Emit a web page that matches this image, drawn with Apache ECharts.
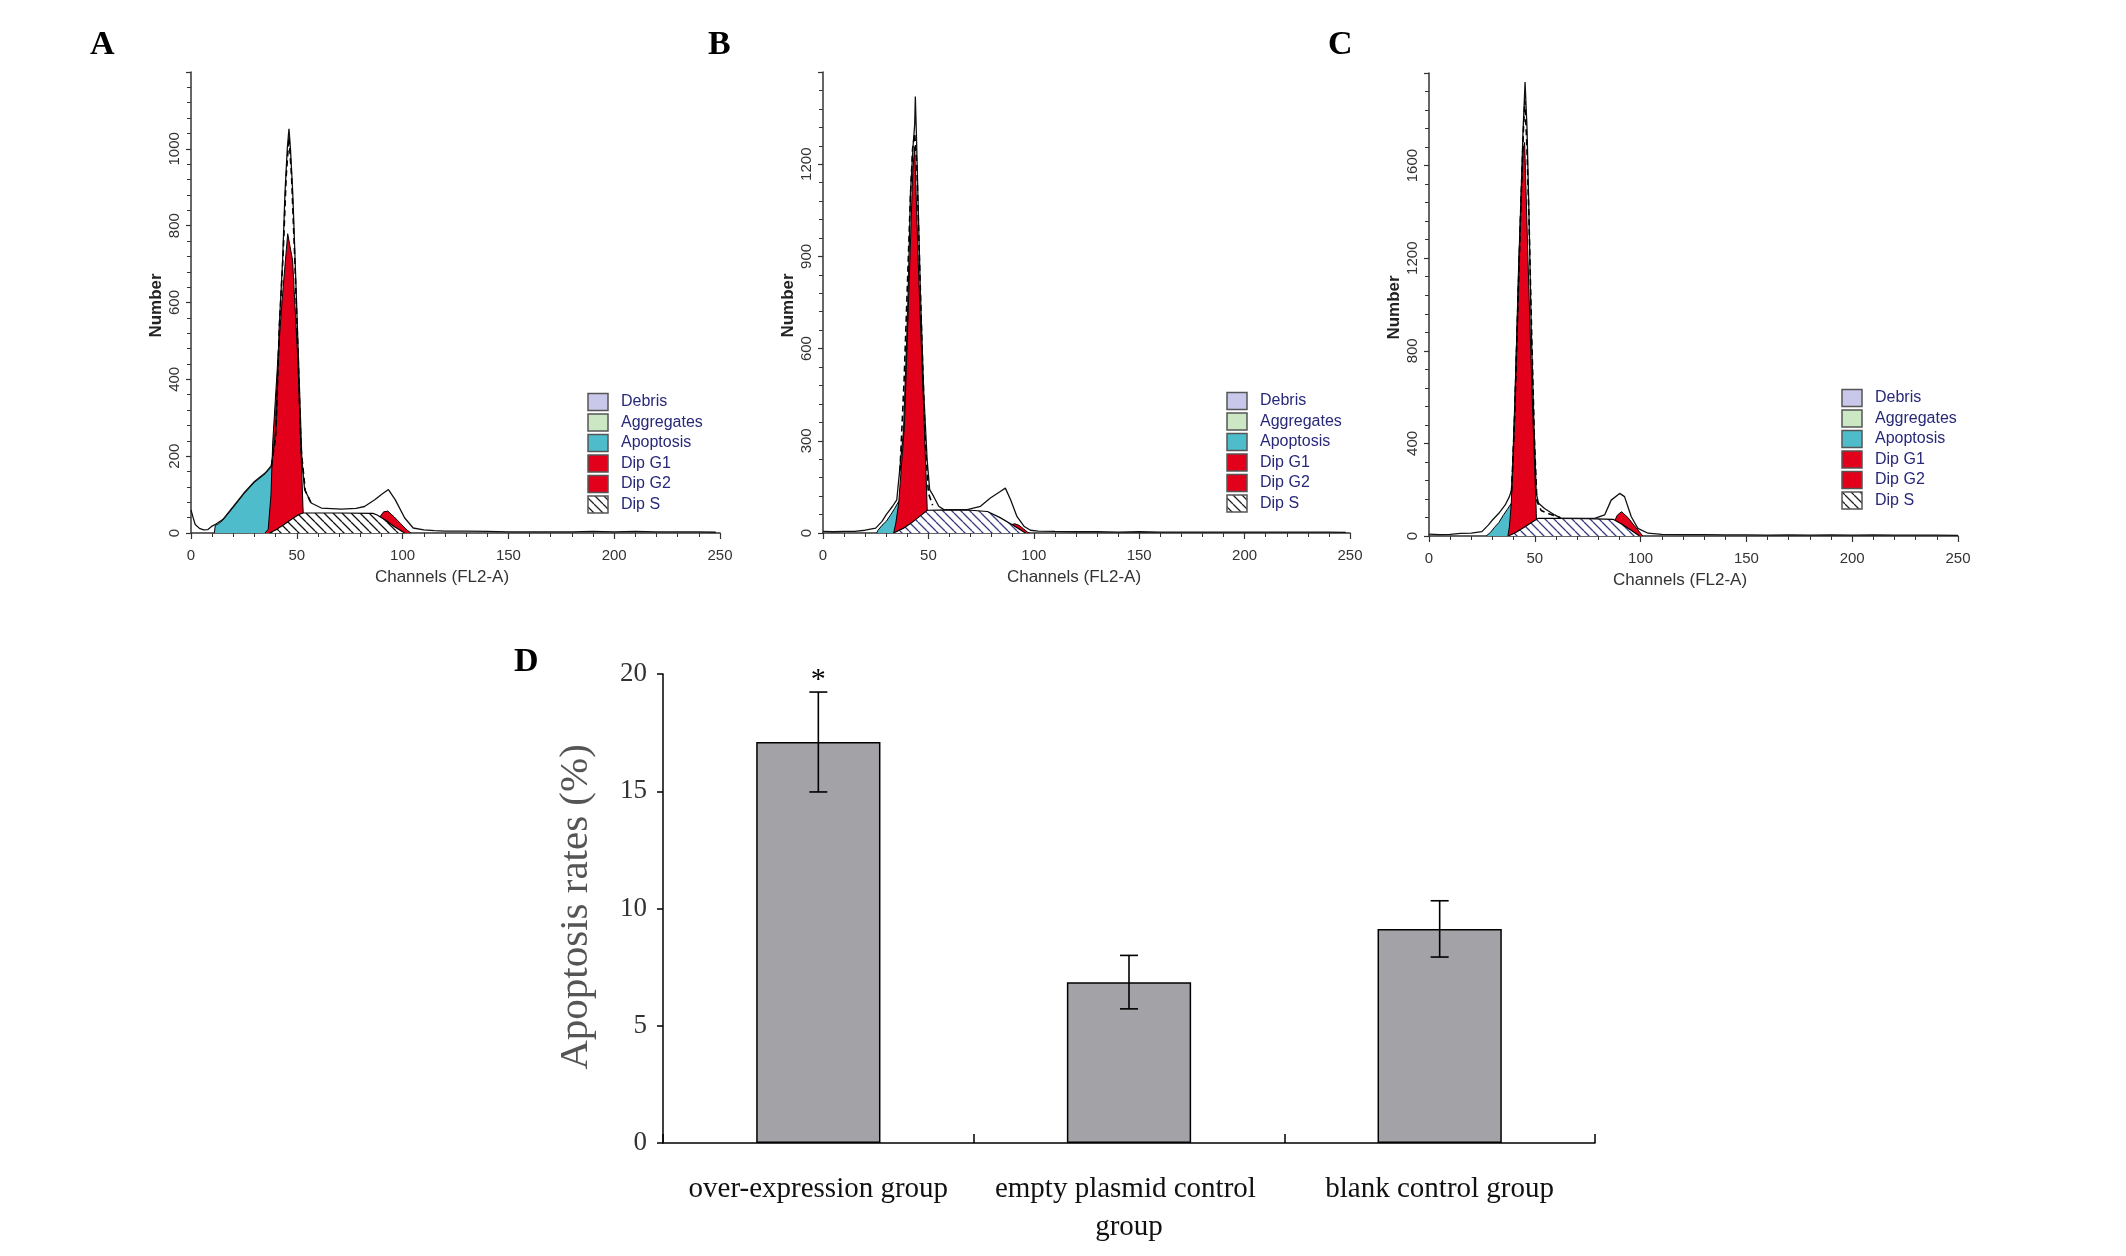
<!DOCTYPE html>
<html><head><meta charset="utf-8">
<script src="https://cdn.jsdelivr.net/npm/echarts/dist/echarts.min.js"></script>
<style>html,body{margin:0;padding:0;background:#fff}#c{width:2126px;height:1256px}</style>
</head><body><div id="c"></div>
<script>
// ---------- Panel A (channel, count) ----------
const A_total = [[0,60],[1,40],[2,22],[4,12],[6,8],[8,9],[10,18],[12,24],[15,35],[20,69],[25,104],[30,134],[35,156],[38,175],[39.4,234],[40.2,277],[41.7,537],[43.3,710],[44.4,883],[45.5,1000],[46.3,1052],[47,1000],[48.1,883],[49.2,710],[50.8,450],[52.4,190],[53.7,113],[56.8,78],[61.6,65],[71,62],[78,64],[82,69],[87,87],[90,100],[93.3,113],[96.5,87],[101,39],[105,13],[110,8],[115,6],[120,5],[130,5],[140,4],[150,3],[160,3],[170,3],[180,3],[190,4],[200,3],[210,4],[220,3],[230,3],[240,3],[248,2]];
const A_fit = [[38,175],[40,250],[41.8,540],[43.5,720],[45,930],[46.3,1030],[47.5,930],[49,720],[50.5,480],[52,220],[54,110],[57,75]];
const A_apoptosis = [[11,0],[11.5,20],[13,24],[15,33],[20,67],[25,102],[30,132],[35,154],[38.5,176],[39.5,0]];
const A_G1 = [[35,0],[36.5,10],[37.8,100],[38.6,234],[41,450],[43.3,623],[45.7,779],[48,710],[50.5,450],[52.9,69],[53.5,0]];
const A_S = [[37,0],[40,8],[44,22],[48,38],[51,48],[53,52],[70,52],[86,51],[88,47],[92,33],[96,17],[100,3],[101,0]];
const A_G2 = [[88,0],[89,40],[91,55],[93,57],[96,42],[99,25],[102,8],[104,0]];

// ---------- Panel B ----------
const B_total = [[0,5],[5,4],[10,5],[15,5],[20,9],[25,16],[28,38],[30,60],[33,87],[35,108],[36.7,227],[38.2,330],[39.6,600],[40.4,780],[41.5,1105],[42.7,1257],[43.5,1330],[43.8,1420],[44.3,1300],[45,1105],[46.2,780],[47.8,455],[49.4,238],[50.6,141],[52.5,119],[54.9,87],[57.3,76],[62,76],[68.4,76],[74.7,87],[79.4,114],[84.1,135],[86.5,146],[89,108],[92,54],[95.3,22],[98.4,9],[102,6],[110,5],[120,4],[130,4],[140,3],[150,4],[160,3],[170,3],[180,3],[190,3],[200,3],[210,3],[220,3],[230,3],[240,3],[248,2]];
const B_fit = [[36.5,200],[38.5,500],[40,800],[41.5,1100],[42.5,1250],[43.5,1300],[44.5,1200],[45.5,950],[47,600],[48.5,300],[50,130],[52,90]];
const B_apoptosis = [[25.5,0],[26,8],[28,25],[30,38],[32,58],[34,80],[35.9,103],[36.3,0]];
const B_G1 = [[33.5,0],[34.5,30],[35.9,97],[37,200],[38.6,347],[40.7,780],[42.6,1181],[43.5,1257],[45.4,834],[47.5,455],[49.4,87],[49.8,0]];
const B_S = [[33.5,0],[38,15],[42,33],[46,55],[49.5,74],[60,75],[70,74],[78,70],[84,50],[90,26],[96,0]];
const B_G2 = [[86,0],[88,25],[91,30],[93,25],[95,14],[97,3],[98,0]];

// ---------- Panel C ----------
const C_total = [[0,8],[5,6],[10,7],[15,11],[20,12],[25,19],[28,47],[30,69],[33,98],[36,134],[38,170],[39,199],[39.6,300],[40.2,472],[41.7,904],[43.3,1407],[44.4,1738],[45.4,1961],[46.3,1767],[47.2,1407],[48.3,904],[49.6,472],[50.7,184],[51.8,141],[54.6,119],[59.4,91],[62.5,76],[70,76],[78.3,76],[83,91],[86.1,155],[90.1,184],[92.4,170],[95.6,83],[98.7,33],[103.5,12],[110,7],[120,6],[130,6],[140,5],[150,5],[160,4],[170,5],[180,4],[190,5],[200,4],[210,5],[220,4],[230,4],[240,4],[250,3]];
const C_fit = [[39,190],[40.5,520],[42,1000],[43.5,1450],[44.6,1750],[45.3,1880],[46.2,1700],[47.3,1350],[48.5,880],[49.8,420],[51,150],[53,110],[57,95],[62,80]];
const C_apoptosis = [[27,0],[27.5,8],[29,15],[31,38],[33,58],[35,88],[37,115],[38.9,141],[39.3,0]];
const C_G1 = [[37.3,0],[38,40],[38.9,141],[40.5,544],[42.4,1191],[44.4,1666],[45.2,1700],[46.8,1191],[48.7,616],[50.7,98],[51,0]];
const C_S = [[37.5,0],[41,15],[45,38],[49,62],[51.5,76],[60,76],[75,75],[87,72],[91,52],[95,28],[99.5,0]];
const C_G2 = [[86,0],[87.5,60],[89,90],[91,105],[94,80],[97,45],[100,12],[101,0]];

// ---------- Panel D ----------
const categories = ['over-expression group', 'empty plasmid control group', 'blank control group'];
const rates = [17.1, 6.86, 9.13];
const errors = [2.13, 1.14, 1.2];
const marks = ['*', '', ''];

const legendItems = ['Debris', 'Aggregates', 'Apoptosis', 'Dip G1', 'Dip G2', 'Dip S'];

// ---------- helpers ----------
function hatch(color) {
  const s = 9, c = document.createElement('canvas');
  c.width = s; c.height = s;
  const g = c.getContext('2d');
  g.fillStyle = '#fff'; g.fillRect(0, 0, s, s);
  g.strokeStyle = color; g.lineWidth = 1.3;
  g.beginPath();
  [-s, 0, s].forEach(k => { g.moveTo(k, 0); g.lineTo(k + s, s); });
  g.stroke();
  return { image: c, repeat: 'repeat' };
}
const RED = '#e2001a', CYAN = '#4fbccb';
const legendColors = ['#c9c8ea', '#cbe7c4', CYAN, RED, RED, 'hatch'];

const panels = [
  { grid: { left: 191, top: 72, width: 529, height: 461 }, ymax: 1200, yint: 200, total: A_total, fit: A_fit, apo: A_apoptosis, g1: A_G1, s: A_S, g2: A_G2, hatchColor: '#111', letter: 'A', letterX: 102, legX: 588, legY: 402 },
  { grid: { left: 823, top: 72, width: 527, height: 461 }, ymax: 1500, yint: 300, total: B_total, fit: B_fit, apo: B_apoptosis, g1: B_G1, s: B_S, g2: B_G2, hatchColor: '#3a3a80', letter: 'B', letterX: 720, legX: 1227, legY: 401 },
  { grid: { left: 1429, top: 73, width: 529, height: 463 }, ymax: 2000, yint: 400, total: C_total, fit: C_fit, apo: C_apoptosis, g1: C_G1, s: C_S, g2: C_G2, hatchColor: '#3a3a80', letter: 'C', letterX: 1340, legX: 1842, legY: 398 }
];

const grids = [], xAxes = [], yAxes = [], series = [], graphics = [];
const axisCol = '#333';
panels.forEach((p, i) => {
  grids.push(p.grid);
  xAxes.push({
    gridIndex: i, type: 'value', min: 0, max: 250, interval: 50,
    axisLine: { show: true, onZero: false, lineStyle: { color: axisCol, width: 1.5 } },
    axisTick: { show: true, length: 6, lineStyle: { color: axisCol, width: 1.2 } },
    minorTick: { show: true, splitNumber: 5, length: 4, lineStyle: { color: axisCol, width: 1 } },
    splitLine: { show: false }, minorSplitLine: { show: false },
    axisLabel: { fontSize: 15, color: '#333', margin: 15, fontFamily: 'Liberation Sans', formatter: v => String(v) }
  });
  yAxes.push({
    gridIndex: i, type: 'value', min: 0, max: p.ymax, interval: p.yint,
    axisLine: { show: true, lineStyle: { color: axisCol, width: 1.5 } },
    axisTick: { show: true, length: 5, lineStyle: { color: axisCol, width: 1.2 } },
    minorTick: { show: true, splitNumber: 5, length: 4, lineStyle: { color: axisCol, width: 1 } },
    splitLine: { show: false }, minorSplitLine: { show: false },
    axisLabel: { rotate: 90, fontSize: 15, color: '#333', margin: 9, showMaxLabel: false, fontFamily: 'Liberation Sans', formatter: v => String(v) }
  });
  const base = { xAxisIndex: i, yAxisIndex: i, symbol: 'none', showSymbol: false, silent: true, animation: false };
  series.push(Object.assign({ type: 'line', name: 'Apoptosis', data: p.apo, z: 2, lineStyle: { color: '#000', width: 1 }, areaStyle: { color: CYAN, opacity: 1 } }, base));
  series.push(Object.assign({ type: 'line', name: 'Dip G2', data: p.g2, z: 3, lineStyle: { color: '#000', width: 1 }, areaStyle: { color: RED, opacity: 1 } }, base));
  series.push(Object.assign({ type: 'line', name: 'Dip G1', data: p.g1, z: 4, lineStyle: { color: '#000', width: 1 }, areaStyle: { color: RED, opacity: 1 } }, base));
  series.push(Object.assign({ type: 'line', name: 'Dip S', data: p.s, z: 5, lineStyle: { color: '#000', width: 1.2 }, areaStyle: { color: hatch(p.hatchColor), opacity: 1 } }, base));
  series.push(Object.assign({ type: 'line', name: 'Data', data: p.total, z: 6, lineStyle: { color: '#111', width: 1.3 } }, base));
  series.push(Object.assign({ type: 'line', name: 'Fit', data: p.fit, z: 7, lineStyle: { color: '#000', width: 1.6, type: [6, 4] } }, base));

  const g = p.grid;
  graphics.push({ type: 'text', left: p.letterX - 12, top: 28, style: { text: p.letter, font: 'bold 34px "Liberation Serif"', fill: '#000' } });
  graphics.push({ type: 'text', x: g.left + 251, y: g.top + g.height + 44, style: { text: 'Channels (FL2-A)', font: '17px "Liberation Sans"', fill: '#333', align: 'center', verticalAlign: 'middle', textAlign: 'center', textVerticalAlign: 'middle' } });
  graphics.push({ type: 'text', x: g.left - 35, y: g.top + g.height / 2 + 3, rotation: Math.PI / 2, style: { text: 'Number', font: 'bold 17px "Liberation Sans"', fill: '#222', align: 'center', verticalAlign: 'middle', textAlign: 'center', textVerticalAlign: 'middle' } });
  legendItems.forEach((name, k) => {
    const cy = p.legY + k * 20.5;
    const col = legendColors[k];
    graphics.push({ type: 'rect', shape: { x: p.legX, y: cy - 8.5, width: 20, height: 17 }, style: { fill: col === 'hatch' ? hatch('#222') : col, stroke: '#555', lineWidth: 1.5 } });
    graphics.push({ type: 'text', x: p.legX + 33, y: cy, style: { text: name, font: '16px "Liberation Sans"', fill: '#282878', verticalAlign: 'middle', textVerticalAlign: 'middle' } });
  });
});

// ---------- Panel D (bar chart) ----------
grids.push({ left: 663, top: 674, width: 932, height: 469 });
xAxes.push({
  gridIndex: 3, type: 'category', data: categories,
  axisLine: { show: true, lineStyle: { color: '#000', width: 1.5 } },
  axisTick: { show: true, inside: true, length: 9, alignWithLabel: false, lineStyle: { color: '#000', width: 1.5 } },
  axisLabel: { interval: 0, fontSize: 29, fontFamily: 'Liberation Serif', color: '#111', margin: 27, lineHeight: 38, width: 290, overflow: 'break' },
  splitLine: { show: false }
});
yAxes.push({
  gridIndex: 3, type: 'value', min: 0, max: 20, interval: 5,
  axisLine: { show: true, lineStyle: { color: '#000', width: 1.5 } },
  axisTick: { show: true, length: 6, lineStyle: { color: '#000', width: 1.5 } },
  axisLabel: { fontSize: 27, fontFamily: 'Liberation Serif', color: '#333', margin: 16 },
  splitLine: { show: false }
});
series.push({ type: 'bar', xAxisIndex: 3, yAxisIndex: 3, data: rates, barWidth: '40%', silent: true, animation: false,
  itemStyle: { color: '#a3a2a7', borderColor: '#000', borderWidth: 1.5 } });
series.push({
  type: 'custom', xAxisIndex: 3, yAxisIndex: 3, silent: true, animation: false, z: 10,
  data: rates.map((v, i) => [i, v, errors[i]]),
  renderItem: function (params, api) {
    const i = api.value(0), v = api.value(1), e = api.value(2);
    const top = api.coord([i, v + e]), bot = api.coord([i, v - e]);
    const cap = 9, st = { stroke: '#000', lineWidth: 1.6 };
    const ch = [
      { type: 'line', shape: { x1: top[0], y1: top[1], x2: bot[0], y2: bot[1] }, style: st },
      { type: 'line', shape: { x1: top[0] - cap, y1: top[1], x2: top[0] + cap, y2: top[1] }, style: st },
      { type: 'line', shape: { x1: bot[0] - cap, y1: bot[1], x2: bot[0] + cap, y2: bot[1] }, style: st }
    ];
    const m = marks[params.dataIndex];
    if (m) ch.push({ type: 'text', x: top[0], y: top[1] - 12, style: { text: m, font: '30px "Liberation Serif"', fill: '#000', align: 'center', verticalAlign: 'middle', textAlign: 'center', textVerticalAlign: 'middle' } });
    return { type: 'group', children: ch };
  }
});
graphics.push({ type: 'text', left: 514, top: 645, style: { text: 'D', font: 'bold 34px "Liberation Serif"', fill: '#000' } });
graphics.push({ type: 'text', x: 576, y: 907, rotation: Math.PI / 2, style: { text: 'Apoptosis rates (%)', font: '41px "Liberation Serif"', fill: '#555', align: 'center', verticalAlign: 'middle', textAlign: 'center', textVerticalAlign: 'middle' } });

const chart = echarts.init(document.getElementById('c'));
chart.setOption({
  animation: false,
  backgroundColor: '#fff',
  grid: grids, xAxis: xAxes, yAxis: yAxes, series: series, graphic: graphics
});
</script></body></html>
